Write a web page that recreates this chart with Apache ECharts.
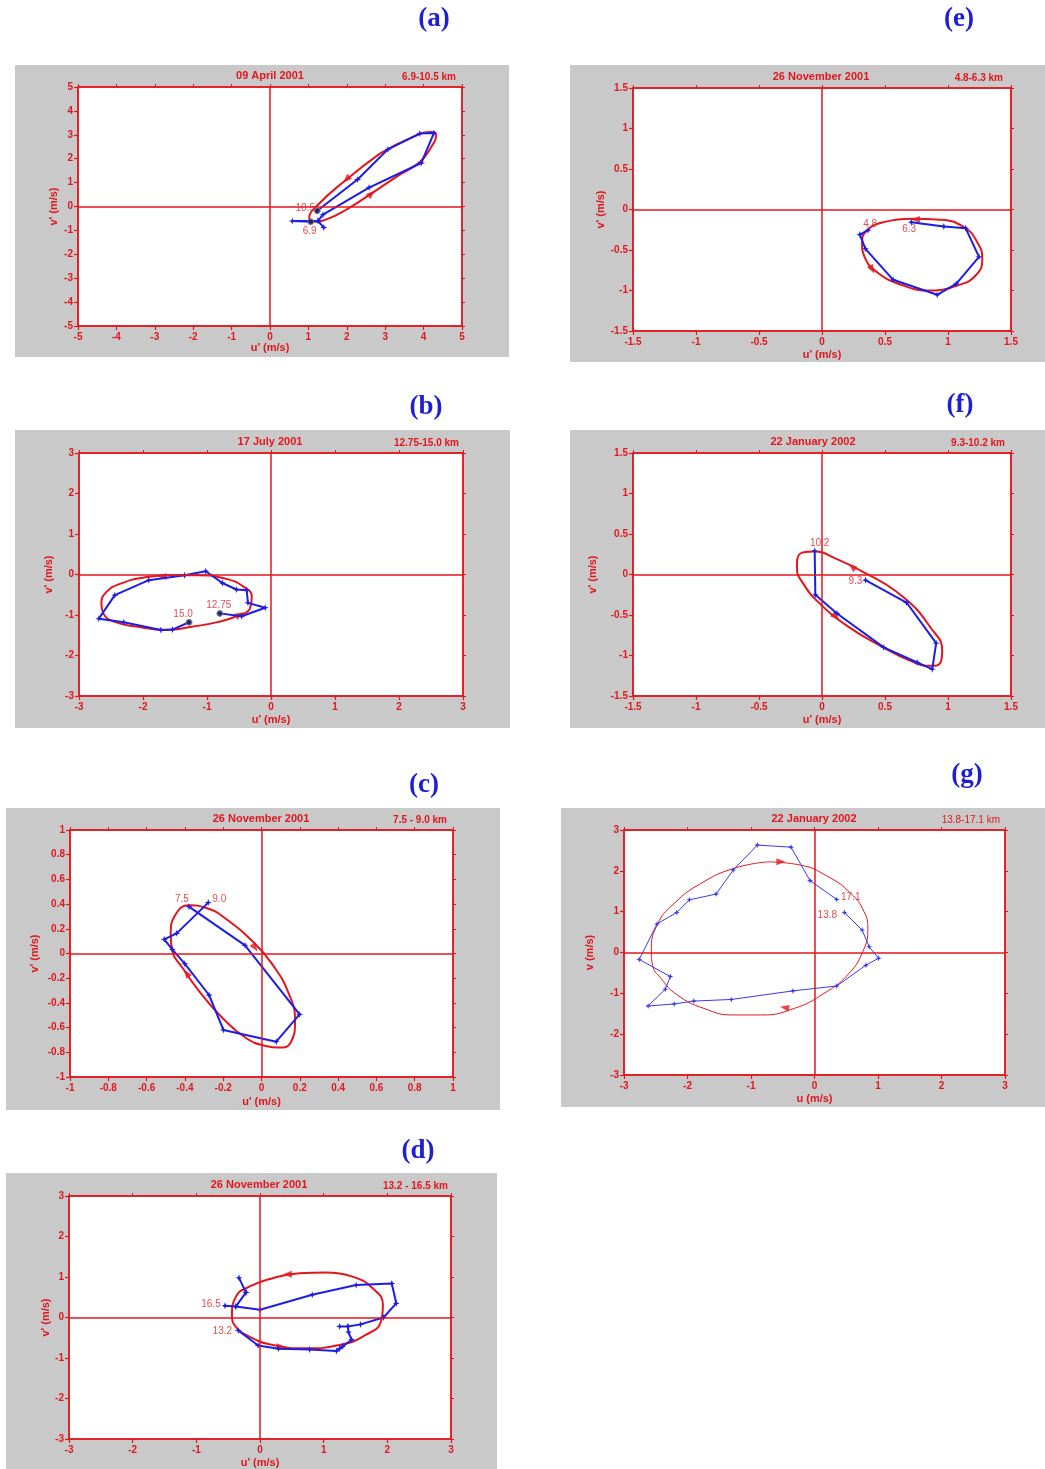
<!DOCTYPE html>
<html>
<head>
<meta charset="utf-8">
<title>Hodographs</title>
<script src="https://cdn.jsdelivr.net/npm/echarts@6/dist/echarts.min.js"></script>
<style>
html, body { margin: 0; padding: 0; background: #fff; }
#main { width: 1045px; height: 1469px; }
</style>
</head>
<body>
<div id="main"></div>
<script>
// ---- texts (panel order a..g) ----
var panelTags = ['(a)', '(b)', '(c)', '(d)', '(e)', '(f)', '(g)'];
var dates = ['09 April 2001', '17 July 2001', '26 November 2001', '26 November 2001',
             '26 November 2001', '22 January 2002', '22 January 2002'];
var layers = ['6.9-10.5 km', '12.75-15.0 km', '7.5 - 9.0 km', '13.2 - 16.5 km',
              '4.8-6.3 km', '9.3-10.2 km', '13.8-17.1 km'];
var xNames = ["u' (m/s)", "u' (m/s)", "u' (m/s)", "u' (m/s)", "u' (m/s)", "u' (m/s)", 'u (m/s)'];
var yNames = ["v' (m/s)", "v' (m/s)", "v' (m/s)", "v' (m/s)", "v' (m/s)", "v' (m/s)", 'v (m/s)'];
// [min, max, interval] of both axes
var axisRanges = [[-5, 5, 1], [-3, 3, 1], [-1, 1, 0.2], [-3, 3, 1], [-1.5, 1.5, 0.5], [-1.5, 1.5, 0.5], [-3, 3, 1]];
// altitude at start / end of each hodograph
var endLabels = [['6.9', '10.5'], ['12.75', '15.0'], ['7.5', '9.0'], ['13.2', '16.5'],
                 ['4.8', '6.3'], ['9.3', '10.2'], ['13.8', '17.1']];

// ---- measured hodographs [u', v'] ----
var pathA = [[1.06, -0.64], [0.58, -0.61], [1.25, -0.60], [1.40, -0.88], [1.25, -0.60], [1.38, -0.34],
             [2.58, 0.79], [3.94, 1.82], [4.27, 3.08], [3.90, 3.05], [3.07, 2.39], [2.28, 1.13], [1.23, -0.18]];
var pathB = [[-0.80, -0.96], [-0.46, -1.03], [-0.09, -0.82], [-0.36, -0.70], [-0.38, -0.39], [-0.54, -0.37],
             [-0.76, -0.21], [-1.02, 0.08], [-1.35, -0.02], [-1.91, -0.14], [-2.44, -0.51], [-2.69, -1.09],
             [-2.30, -1.18], [-1.72, -1.37], [-1.54, -1.36], [-1.28, -1.18]];
var pathC = [[-0.379, 0.379], [-0.086, 0.066], [0.199, -0.493], [0.077, -0.714], [-0.199, -0.619],
             [-0.274, -0.336], [-0.401, -0.082], [-0.466, 0.034], [-0.508, 0.115], [-0.443, 0.163], [-0.278, 0.412]];
var pathD = [[-0.34, -0.32], [-0.03, -0.69], [0.29, -0.77], [0.78, -0.79], [1.20, -0.83], [1.25, -0.77],
             [1.30, -0.71], [1.44, -0.55], [1.39, -0.36], [1.38, -0.22], [1.25, -0.22], [1.38, -0.22],
             [1.58, -0.17], [1.94, 0.00], [2.14, 0.35], [2.07, 0.84], [1.51, 0.80], [0.82, 0.56],
             [0.00, 0.19], [-0.38, 0.27], [-0.22, 0.62], [-0.33, 0.98], [-0.22, 0.62], [-0.38, 0.27], [-0.55, 0.29]];
var pathE = [[0.366, -0.255], [0.30, -0.31], [0.345, -0.486], [0.565, -0.868], [0.914, -1.053],
             [1.065, -0.918], [1.246, -0.584], [1.14, -0.23], [0.967, -0.21], [0.708, -0.156]];
var pathF = [[0.345, -0.07], [0.671, -0.346], [0.906, -0.848], [0.875, -1.169], [0.755, -1.086],
             [0.49, -0.90], [0.119, -0.481], [-0.053, -0.251], [-0.058, 0.292]];
var pathG = [[0.47, 0.98], [0.75, 0.55], [0.86, 0.14], [1.01, -0.14], [0.81, -0.31], [0.35, -0.82],
             [-0.34, -0.94], [-1.31, -1.15], [-1.90, -1.19], [-2.21, -1.26], [-2.62, -1.31], [-2.35, -0.90],
             [-2.27, -0.59], [-2.76, -0.17], [-2.48, 0.70], [-2.17, 0.98], [-1.97, 1.29], [-1.55, 1.43],
             [-1.28, 2.02], [-0.90, 2.63], [-0.37, 2.58], [-0.07, 1.76], [0.35, 1.30]];

// ---- fitted ellipses (starting mid-side) ----
var ellipseA = [[2.86, 2.21], [3.72, 2.91], [4.20, 3.12], [4.33, 2.98], [4.20, 2.49], [3.90, 1.86], [3.29, 1.24],
                [2.64, 0.54], [1.99, -0.13], [1.47, -0.54], [1.12, -0.64], [1.02, -0.50], [1.21, 0.01], [1.99, 1.13]];
var ellipseB = [[-1.56, -0.02], [-1.14, -0.02], [-0.72, -0.10], [-0.43, -0.30], [-0.30, -0.55], [-0.33, -0.84],
                [-0.49, -1.00], [-0.82, -1.17], [-1.24, -1.29], [-1.66, -1.37], [-2.08, -1.29], [-2.44, -1.17],
                [-2.62, -0.96], [-2.65, -0.72], [-2.57, -0.43], [-2.34, -0.22], [-1.97, -0.07]];
var ellipseC = [[-0.048, 0.101], [0.057, -0.088], [0.144, -0.331], [0.175, -0.547], [0.152, -0.722],
                [0.091, -0.762], [0.022, -0.749], [-0.083, -0.682], [-0.205, -0.520], [-0.326, -0.304],
                [-0.413, -0.115], [-0.466, 0.020], [-0.474, 0.155], [-0.448, 0.317], [-0.379, 0.390],
                [-0.292, 0.371], [-0.170, 0.263]];
var ellipseD = [[1.04, 1.11], [1.45, 1.01], [1.77, 0.72], [1.93, 0.31], [1.90, -0.10], [1.66, -0.43],
                [1.25, -0.68], [0.72, -0.76], [0.20, -0.68], [-0.17, -0.47], [-0.38, -0.23], [-0.44, 0.06],
                [-0.38, 0.51], [-0.17, 0.76], [0.20, 0.97], [0.62, 1.09]];
var ellipseE = [[0.716, -0.115], [0.941, -0.128], [1.126, -0.218], [1.232, -0.403], [1.272, -0.609],
                [1.219, -0.815], [1.073, -0.938], [0.861, -1.0], [0.623, -0.926], [0.437, -0.774],
                [0.345, -0.609], [0.318, -0.403], [0.358, -0.259], [0.490, -0.156]];
var ellipseF = [[0.358, 0.004], [0.649, -0.284], [0.861, -0.654], [0.954, -0.942], [0.941, -1.086],
                [0.861, -1.128], [0.702, -1.066], [0.464, -0.881], [0.199, -0.634], [-0.013, -0.366],
                [-0.146, -0.119], [-0.199, 0.086], [-0.172, 0.259], [-0.066, 0.284], [0.119, 0.189]];
var ellipseG = [[-0.74, 2.22], [-0.22, 2.14], [0.21, 1.86], [0.57, 1.45], [0.78, 1.00], [0.84, 0.59],
                [0.76, 0.02], [0.52, -0.55], [0.15, -1.00], [-0.32, -1.37], [-0.85, -1.53], [-1.27, -1.53],
                [-1.74, -1.37], [-2.16, -1.04], [-2.42, -0.63], [-2.55, -0.31], [-2.57, 0.02], [-2.48, 0.67],
                [-2.21, 1.20], [-1.79, 1.69], [-1.27, 2.06]];

// ---- rotation arrows on the ellipses ----
var arrowsA = [[1.99, 1.13], [2.64, 0.54]];
var arrowsB = [[-1.70, -0.05], [-0.49, -0.99]];
var arrowsC = [[-0.034, 0.047], [-0.391, -0.160]];
var arrowsD = [[0.43, 1.07], [0.33, -0.72]];
var arrowsE = [[0.742, -0.123], [0.398, -0.741]];
var arrowsF = [[0.239, 0.096], [0.11, -0.52]];
var arrowsG = [[-0.53, 2.22], [-0.47, -1.35]];

var paths = [pathA, pathB, pathC, pathD, pathE, pathF, pathG];
var ellipses = [ellipseA, ellipseB, ellipseC, ellipseD, ellipseE, ellipseF, ellipseG];
var arrows = [arrowsA, arrowsB, arrowsC, arrowsD, arrowsE, arrowsF, arrowsG];

// ---- layout / style per panel ----
var layout = [
    { box: [15, 65, 494, 292],  grid: [78, 87, 384, 239],   tag: [434, 19],   titleX: 270, rangeX: 456,  yGap: 19, xGap: 16,
      rot: [135, 315], lab: [[-1, 9], [-12, -3]], dots: true },
    { box: [15, 430, 495, 298], grid: [79, 453, 384, 243],  tag: [426, 407],  titleX: 270, rangeX: 459,  yGap: 25, xGap: 18,
      rot: [90, 300], lab: [[-1, -8], [-6, -8]], dots: true },
    { box: [6, 808, 494, 302],  grid: [70, 830, 383, 247],  tag: [424, 785],  titleX: 261, rangeX: 447,  yGap: 30, xGap: 19,
      rot: [215, 35], lab: [[-7, -7], [11, -3]] },
    { box: [6, 1173, 491, 296], grid: [69, 1196, 382, 243], tag: [418, 1151], titleX: 259, rangeX: 448,  yGap: 17, xGap: 18,
      rot: [90, 270], lab: [[-16, 1], [-14, -2]] },
    { box: [570, 65, 475, 297], grid: [633, 88, 378, 243],  tag: [959, 19],   titleX: 821, rangeX: 1003, yGap: 27, xGap: 18,
      rot: [90, 210], lab: [[2, -6], [-2, 7]] },
    { box: [570, 430, 475, 298], grid: [633, 453, 378, 243], tag: [960, 405], titleX: 813, rangeX: 1005, yGap: 35, xGap: 18,
      rot: [50, 230], lab: [[-10, 1], [5, -8]] },
    { box: [561, 808, 484, 299], grid: [624, 830, 381, 245], tag: [967, 775], titleX: 814, rangeX: 1000, yGap: 29, xGap: 18,
      rot: [270, 80], lab: [[-17, 3], [14, -2]], thin: true }
];

var RED = '#e3161e', BLUE = '#1d1de6', FONT = 'Liberation Sans, Arial, sans-serif';
var STAR = 'path://M5,0L6.3,3.7L10,5L6.3,6.3L5,10L3.7,6.3L0,5L3.7,3.7Z';

var chart = echarts.init(document.getElementById('main'));
var grids = [], xAxes = [], yAxes = [], series = [], graphics = [];

layout.forEach(function (p, i) {
    var r = axisRanges[i];
    var path = paths[i];

    graphics.push({ type: 'rect', z: -10, shape: { x: p.box[0], y: p.box[1], width: p.box[2], height: p.box[3] },
        style: { fill: '#c9c9c9' } });
    graphics.push({ type: 'text', x: p.tag[0], y: p.tag[1],
        style: { text: panelTags[i], fill: '#1e1ed2', font: 'bold 27px "Liberation Serif", "Times New Roman", serif',
                 textAlign: 'center', textVerticalAlign: 'middle' } });
    graphics.push({ type: 'text', x: p.titleX, y: p.grid[1] - 11,
        style: { text: dates[i], fill: RED, font: 'bold 11px ' + FONT, textAlign: 'center', textVerticalAlign: 'middle' } });
    graphics.push({ type: 'text', x: p.rangeX, y: p.grid[1] - 10,
        style: { text: layers[i], fill: RED, font: (p.thin ? '' : 'bold ') + '10px ' + FONT,
                 textAlign: 'right', textVerticalAlign: 'middle' } });

    grids.push({ left: p.grid[0], top: p.grid[1], width: p.grid[2], height: p.grid[3],
        show: true, backgroundColor: '#ffffff', borderColor: RED, borderWidth: 1.5 });

    var axisBase = {
        type: 'value', gridIndex: i, min: r[0], max: r[1], interval: r[2],
        axisLine: { show: true, onZero: false, lineStyle: { color: RED, width: 1.5 } },
        axisTick: { show: true, inside: false, length: 4, lineStyle: { color: RED, width: 1.2 } },
        splitLine: { show: false }
    };
    var label = { color: RED, fontWeight: 'bold', fontSize: 10, fontFamily: FONT };
    var nameStyle = { color: RED, fontWeight: 'bold', fontSize: 11, fontFamily: FONT };

    xAxes.push(Object.assign({}, axisBase, { position: 'bottom', name: xNames[i], nameLocation: 'middle',
        nameGap: p.xGap, nameTextStyle: nameStyle, axisLabel: Object.assign({ margin: 6 }, label) }));
    xAxes.push(Object.assign({}, axisBase, { position: 'top', axisLabel: { show: false },
        axisTick: { show: true, length: 3, lineStyle: { color: RED } } }));
    yAxes.push(Object.assign({}, axisBase, { position: 'left', name: yNames[i], nameLocation: 'middle',
        nameGap: p.yGap, nameTextStyle: nameStyle, axisLabel: Object.assign({ margin: 5 }, label) }));
    yAxes.push(Object.assign({}, axisBase, { position: 'right', axisLabel: { show: false },
        axisTick: { show: true, length: 3, lineStyle: { color: RED } } }));

    var ax = { xAxisIndex: 2 * i, yAxisIndex: 2 * i };

    // fitted ellipse, closed, with the zero cross
    series.push(Object.assign({
        type: 'line', data: ellipses[i].concat([ellipses[i][0]]), smooth: 0.5, symbol: 'none', z: 2,
        lineStyle: { color: RED, width: p.thin ? 1 : 2 },
        markLine: { silent: true, symbol: 'none', label: { show: false }, animation: false,
            lineStyle: { color: RED, width: 1.5, type: 'solid' }, data: [{ xAxis: 0 }, { yAxis: 0 }] }
    }, ax));

    series.push(Object.assign({
        type: 'scatter', data: arrows[i].map(function (a, k) { return { value: a, symbolRotate: p.rot[k] }; }),
        symbol: 'triangle', symbolSize: [7, 9], itemStyle: { color: RED }, z: 3
    }, ax));

    // observed hodograph
    series.push(Object.assign({
        type: 'line', data: path, symbol: STAR, symbolSize: p.thin ? 6 : 7, showAllSymbol: true, z: 4,
        lineStyle: { color: p.thin ? '#3a3aec' : BLUE, width: p.thin ? 1 : 2 },
        itemStyle: { color: p.thin ? '#3a3aec' : BLUE }
    }, ax));

    if (p.dots) {
        series.push(Object.assign({
            type: 'scatter', data: [path[0], path[path.length - 1]], symbol: 'circle', symbolSize: 6, z: 5,
            itemStyle: { color: '#222244', borderColor: '#8888aa', borderWidth: 1 }
        }, ax));
    }

    // start / end altitude labels
    var ends = [path[0], path[path.length - 1]];
    series.push(Object.assign({
        type: 'scatter', symbolSize: 1, itemStyle: { color: 'rgba(0,0,0,0)' }, z: 6,
        data: ends.map(function (pt, k) {
            return { value: pt, label: { show: true, position: 'inside', offset: p.lab[k], formatter: endLabels[i][k],
                color: '#d8202a', fontSize: 10, fontFamily: FONT } };
        })
    }, ax));
});

chart.setOption({
    animation: false,
    backgroundColor: '#ffffff',
    grid: grids,
    xAxis: xAxes,
    yAxis: yAxes,
    series: series,
    graphic: { elements: graphics }
});
</script>
</body>
</html>
